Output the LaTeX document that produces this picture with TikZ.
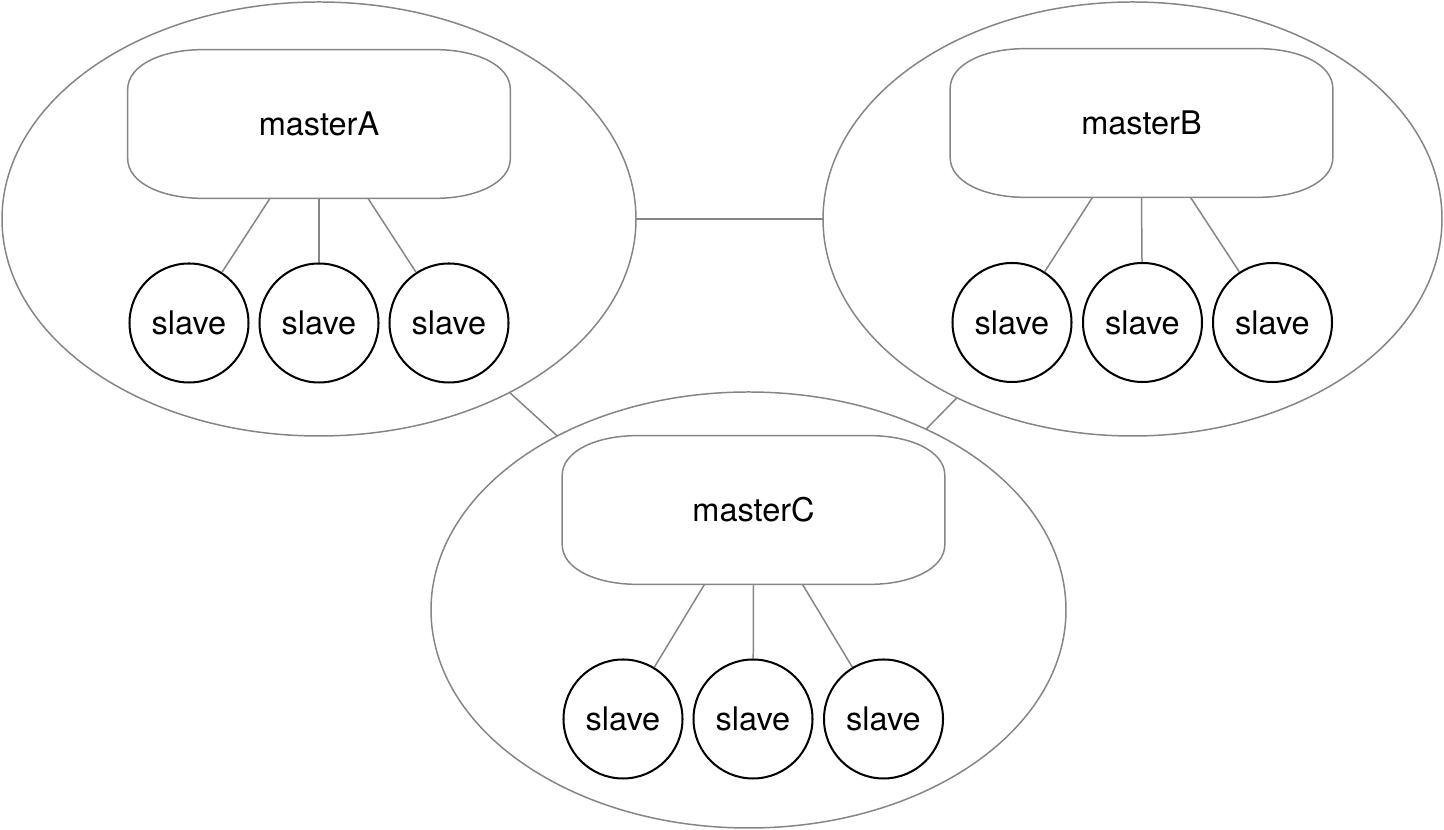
\documentclass[tikz,border=0pt]{standalone}
\usepackage{fontspec}
\setmainfont{TeX Gyre Heros}
\usetikzlibrary{calc,shapes.geometric}
\definecolor{EdgeGray}{HTML}{858585}

% outline of a master box, drawn round the node #1
\newcommand{\masterframe}[1]{%
  \draw[link] ([yshift=-0.8cm]#1.north west)
    .. controls ([yshift=-0.3cm]#1.north west) and ([xshift=0.7cm]#1.north west) .. ([xshift=1.5cm]#1.north west)
    -- ([xshift=-1.5cm]#1.north east)
    .. controls ([xshift=-0.7cm]#1.north east) and ([yshift=-0.3cm]#1.north east) .. ([yshift=-0.8cm]#1.north east)
    -- ([yshift=0.8cm]#1.south east)
    .. controls ([yshift=0.3cm]#1.south east) and ([xshift=-0.7cm]#1.south east) .. ([xshift=-1.5cm]#1.south east)
    -- ([xshift=1.5cm]#1.south west)
    .. controls ([xshift=0.7cm]#1.south west) and ([yshift=0.3cm]#1.south west) .. ([yshift=0.8cm]#1.south west)
    -- cycle;}

\begin{document}
\begin{tikzpicture}[x=1cm,y=1cm,
    link/.style={draw=EdgeGray, line width=0.85pt},
    cluster/.style={ellipse, link, inner sep=0pt, outer sep=0pt},
    master/.style={rectangle, inner sep=0pt, minimum width=7.64cm, minimum height=2.96cm,
      font=\fontsize{18.5}{22}\selectfont},
    slave/.style={circle, draw=black, line width=1.15pt, minimum size=2.38cm, inner sep=0pt,
      font=\fontsize{18.5}{22}\selectfont}]
  \useasboundingbox (0,0) rectangle (28.88,16.6);

  % the three groups
  \node[cluster, minimum width=12.68cm, minimum height=8.68cm] (cA) at (6.38,12.22) {};
  \node[cluster, minimum width=12.38cm, minimum height=8.68cm] (cB) at (22.65,12.22) {};
  \node[cluster, minimum width=12.70cm, minimum height=8.72cm] (cC) at (14.97,4.40) {};

  \draw[link] (cA) -- (cB);
  \draw[link] (cA) -- (cC);
  \draw[link] (cB) -- (cC);

  % masters
  \node[master] (mA) at (6.38,14.12) {masterA};
  \node[master] (mB) at (22.83,14.14) {masterB};
  \node[master] (mC) at (15.07,6.40) {masterC};
  \masterframe{mA}
  \masterframe{mB}
  \masterframe{mC}

  % slaves
  \foreach \i/\x in {1/3.78,2/6.38,3/8.98}
    \node[slave] (sA\i) at (\x,10.14) {slave};
  \foreach \i/\x in {1/20.24,2/22.85,3/25.45}
    \node[slave] (sB\i) at (\x,10.15) {slave};
  \foreach \i/\x in {1/12.46,2/15.06,3/17.67}
    \node[slave] (sC\i) at (\x,2.22) {slave};

  \foreach \m in {A,B,C}
    \foreach \i/\t in {1/0.372,2/0.5,3/0.628}
      \draw[link] ($(m\m.south west)!\t!(m\m.south east)$) -- (s\m\i);
\end{tikzpicture}
\end{document}
